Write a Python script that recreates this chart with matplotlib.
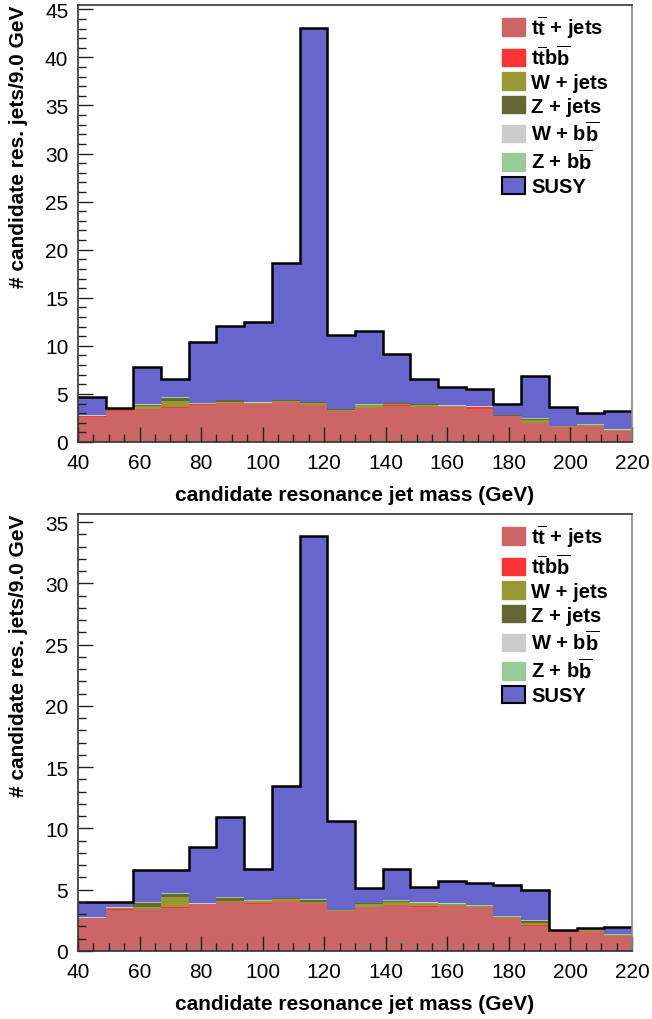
import numpy as np
import matplotlib
matplotlib.use('Agg')
import matplotlib.pyplot as plt
from matplotlib.patches import Patch
from matplotlib.ticker import MultipleLocator

plt.rcParams['font.family'] = ['Liberation Sans', 'DejaVu Sans']
plt.rcParams['mathtext.fontset'] = 'custom'
plt.rcParams['mathtext.rm'] = 'Liberation Sans'
plt.rcParams['mathtext.bf'] = 'Liberation Sans:bold'

# 20 bins of 9 GeV from 40 to 220
mass_lo, mass_hi, bin_w = 40, 220, 9
edges = np.arange(mass_lo, mass_hi + 1, bin_w)

# --- upper plot ---
upper_ttjets = [2.63, 3.26, 3.43, 3.50, 3.85, 4.02, 3.95, 4.12, 3.85, 3.19,
                3.50, 3.72, 3.60, 3.60, 3.43, 2.67, 1.94, 1.60, 1.63, 1.18]
upper_ttbb = [0.03, 0.03, 0.03, 0.14, 0.07, 0.03, 0.03, 0.03, 0.03, 0.03,
              0.03, 0.15, 0.03, 0.03, 0.17, 0.03, 0.03, 0.00, 0.00, 0.00]
upper_wjets = [0.05, 0.10, 0.28, 0.66, 0.03, 0.14, 0.07, 0.15, 0.14, 0.14,
               0.30, 0.05, 0.25, 0.10, 0.05, 0.05, 0.32, 0.02, 0.10, 0.10]
upper_zjets = [0.02, 0.05, 0.14, 0.27, 0.00, 0.14, 0.03, 0.03, 0.10, 0.03,
               0.02, 0.10, 0.03, 0.03, 0.02, 0.02, 0.11, 0.01, 0.00, 0.00]
upper_wbb = [0.04, 0.04, 0.04, 0.04, 0.04, 0.04, 0.04, 0.04, 0.04, 0.04,
             0.04, 0.04, 0.04, 0.04, 0.04, 0.04, 0.04, 0.02, 0.07, 0.02]
upper_zbb = [0.03, 0.03, 0.03, 0.03, 0.03, 0.03, 0.03, 0.03, 0.03, 0.03,
             0.03, 0.03, 0.03, 0.03, 0.03, 0.03, 0.03, 0.02, 0.04, 0.02]
upper_susy = [1.91, 0.04, 3.85, 1.91, 6.38, 7.66, 8.35, 14.20, 38.90, 7.64,
              7.65, 5.11, 2.52, 1.92, 1.76, 1.16, 4.43, 2.00, 1.16, 1.88]
upper_line = [0.00, 0.00, 0.55, 0.55, 0.25, 0.08, 0.05, 0.05, 0.08, 0.05,
              0.20, 0.65, 0.40, 0.40, 0.40, 0.05, 0.05, 0.05, 0.05, 0.05]

# --- lower plot ---
lower_ttjets = [2.67, 3.37, 3.43, 3.48, 3.84, 3.97, 3.84, 4.08, 3.89, 3.24,
                3.56, 3.75, 3.56, 3.65, 3.56, 2.69, 2.07, 1.58, 1.66, 1.25]
lower_ttbb = [0.02, 0.02, 0.02, 0.08, 0.02, 0.02, 0.05, 0.02, 0.02, 0.02,
              0.02, 0.02, 0.13, 0.02, 0.02, 0.02, 0.02, 0.00, 0.00, 0.00]
lower_wjets = [0.02, 0.11, 0.17, 0.82, 0.00, 0.10, 0.16, 0.17, 0.08, 0.05,
               0.28, 0.26, 0.24, 0.15, 0.05, 0.05, 0.20, 0.04, 0.12, 0.06]
lower_zjets = [0.02, 0.03, 0.28, 0.25, 0.00, 0.21, 0.00, 0.02, 0.17, 0.00,
               0.02, 0.02, 0.02, 0.02, 0.02, 0.00, 0.13, 0.02, 0.03, 0.00]
lower_wbb = [0.04, 0.04, 0.04, 0.04, 0.04, 0.04, 0.04, 0.04, 0.04, 0.04,
             0.04, 0.04, 0.04, 0.04, 0.04, 0.04, 0.04, 0.02, 0.03, 0.02]
lower_zbb = [0.03, 0.03, 0.03, 0.03, 0.03, 0.03, 0.03, 0.03, 0.03, 0.03,
             0.03, 0.03, 0.03, 0.03, 0.03, 0.03, 0.03, 0.02, 0.02, 0.02]
lower_susy = [1.17, 0.40, 2.62, 1.90, 4.56, 6.53, 2.55, 9.14, 29.67, 7.22,
              1.15, 2.57, 1.18, 1.83, 1.83, 2.58, 2.49, 0.00, 0.00, 0.58]
lower_line = [0.00, 0.15, 0.45, 0.45, 0.30, 0.10, 0.05, 0.05, 0.15, 0.05,
              0.30, 0.70, 0.43, 0.43, 0.43, 0.05, 0.05, 0.05, 0.05, 0.05]

labels = [r'$\mathbf{t\overline{t}}$ + jets', r'$\mathbf{t\overline{t}b\overline{b}}$',
          'W + jets', 'Z + jets', r'W + $\mathbf{b\overline{b}}$',
          r'Z + $\mathbf{b\overline{b}}$', 'SUSY']
colors = ['#cc6666', '#ff3333', '#999933', '#666633', '#cccccc', '#99cc99']
susy_color = '#6666cc'


def draw_panel(ax, layers, susy, line, ymax):
    base = np.zeros(len(edges) - 1)
    for vals, c in zip(layers, colors):
        top = base + np.asarray(vals)
        ax.stairs(top, edges, baseline=base, fill=True, color=c, lw=0)
        base = top
    total = base + np.asarray(susy)
    ax.stairs(total, edges, baseline=base, fill=True, color=susy_color, lw=0)
    ax.stairs(total, edges, baseline=None, color='black', lw=1.8)
    ax.stairs(line, edges, baseline=None, color='#888888', lw=0.8, alpha=0.7)

    ax.set_xlim(mass_lo, mass_hi)
    ax.set_ylim(0, ymax)
    ax.xaxis.set_major_locator(MultipleLocator(20))
    ax.xaxis.set_minor_locator(MultipleLocator(5))
    ax.yaxis.set_major_locator(MultipleLocator(5))
    ax.yaxis.set_minor_locator(MultipleLocator(1))
    ax.tick_params(which='both', direction='in', top=False, right=False,
                   width=1.0, color='#222222', labelsize=15)
    ax.tick_params(which='major', length=11)
    ax.tick_params(which='minor', length=6)
    ax.tick_params(axis='x', pad=8)
    ax.tick_params(axis='y', pad=7)
    for s in ax.spines.values():
        s.set_linewidth(1.2)
        s.set_color('#333333')
    ax.spines['right'].set_color('#888888')

    ax.set_xlabel('candidate resonance jet mass (GeV)', fontsize=15,
                  fontweight='bold', labelpad=9)
    ax.set_ylabel('# candidate res. jets/9.0 GeV', fontsize=15,
                  fontweight='bold', loc='top')
    ax.yaxis.set_label_coords(-0.09, 1.0)

    handles = [Patch(facecolor=c, edgecolor=c) for c in colors]
    handles.append(Patch(facecolor=susy_color, edgecolor='black', lw=1.5))
    ax.legend(handles, labels, loc='upper left', bbox_to_anchor=(0.765, 0.982),
              frameon=False, borderpad=0, borderaxespad=0,
              prop={'size': 14.5, 'weight': 'bold'},
              handlelength=1.15, handleheight=0.95, handletextpad=0.3,
              labelspacing=0.2)


fig = plt.figure(figsize=(6.52, 10.2), dpi=100)
ax1 = fig.add_axes([0.1196, 0.5657, 0.8497, 0.4284])
ax2 = fig.add_axes([0.1196, 0.0667, 0.8497, 0.4284])

draw_panel(ax1, [upper_ttjets, upper_ttbb, upper_wjets, upper_zjets,
                 upper_wbb, upper_zbb], upper_susy, upper_line, 45.45)
draw_panel(ax2, [lower_ttjets, lower_ttbb, lower_wjets, lower_zjets,
                 lower_wbb, lower_zbb], lower_susy, lower_line, 35.67)

fig.savefig('out.png', dpi=100)
